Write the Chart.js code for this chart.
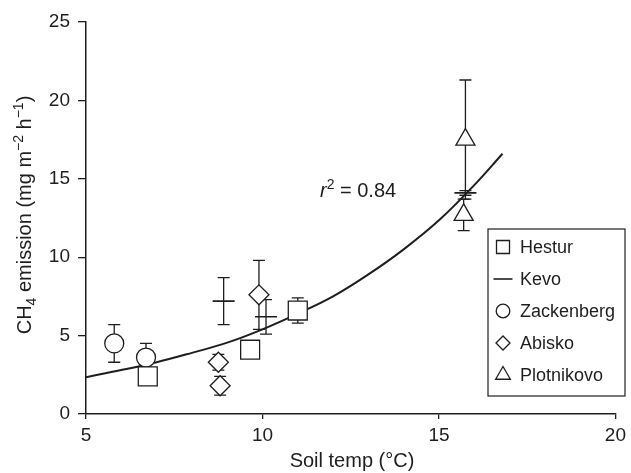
<!DOCTYPE html>
<html>
<head>
<meta charset="utf-8">
<script src="https://cdn.jsdelivr.net/npm/chart.js@4.4.1/dist/chart.umd.min.js"></script>
<style>
html,body{margin:0;padding:0;background:#fff}
#wrap{width:631px;height:473px}
</style>
</head>
<body>
<div id="wrap"><canvas id="c"></canvas></div>
<script>
'use strict';
/* CH4 emission vs soil temperature, five sites + exponential fit */
const INK = '#1e1e1e';
const FAM = '"Liberation Sans", Arial, Helvetica, sans-serif';

// site means: soil temp (°C), CH4 emission (mg m-2 h-1), ± error
const hesturX = [6.75, 9.65, 11.0];
const hesturY = [2.4, 4.1, 6.6];
const hesturE = [0, 0, 0.8];

const kevoX = [8.9, 10.1, 15.75];
const kevoY = [7.2, 6.2, 14.1];
const kevoE = [1.5, 1.1, 0.15];

const zackX = [5.8, 6.7];
const zackY = [4.5, 3.6];
const zackE = [1.2, 0.9];

const abiskoX = [8.75, 8.8, 9.9];
const abiskoY = [3.3, 1.8, 7.6];
const abiskoE = [0.5, 0.6, 2.2];

const plotX = [15.75, 15.7];
const plotY = [17.5, 12.7];
const plotE = [3.8, 1.0];

// fitted curve, read along its length
const fitX = [5, 6, 7, 8, 9, 10, 11, 12, 13, 14, 15, 16, 16.8];
const fitY = [2.35, 2.8, 3.3, 3.9, 4.55, 5.4, 6.4, 7.5, 8.9, 10.5, 12.35, 14.6, 16.6];

const xTicks = [5, 10, 15, 20];
const yTicks = [0, 5, 10, 15, 20, 25];
const fitLabel = '0.84';

const pts = (xs, ys) => xs.map((x, i) => ({x, y: ys[i]}));

function site(label, xs, ys, es, style, r, key){
  return {
    label, data: pts(xs, ys), errors: es, key,
    pointStyle: style, pointRadius: r, pointHoverRadius: r,
    pointBackgroundColor: '#fff', pointBorderColor: INK,
    pointBorderWidth: style === 'line' ? 1.6 : 1.3,
    showLine: false, order: 0
  };
}

const datasets = [
  site('Hestur', hesturX, hesturY, hesturE, 'rect', 13.4, 9.2),
  site('Kevo', kevoX, kevoY, kevoE, 'line', 11, 9.5),
  site('Zackenberg', zackX, zackY, zackE, 'circle', 9.5, 6.8),
  site('Abisko', abiskoX, abiskoY, abiskoE, 'rectRot', 10, 7),
  site('Plotnikovo', plotX, plotY, plotE, 'triangle', 11, 8.5),
  {label: 'fit', data: pts(fitX, fitY), showLine: true, pointRadius: 0,
   borderColor: INK, borderWidth: 2, tension: 0.4, order: 10, noKey: true}
];

// vertical error bars with caps, under the markers
const errorBars = {
  id: 'errorBars',
  beforeDatasetsDraw(chart){
    const {ctx, scales: {x, y}} = chart;
    ctx.save();
    ctx.strokeStyle = INK; ctx.lineWidth = 1.3;
    chart.data.datasets.forEach(ds => {
      if (!ds.errors) return;
      ds.data.forEach((p, i) => {
        const e = ds.errors[i]; if (!e) return;
        const px = x.getPixelForValue(p.x);
        const y0 = y.getPixelForValue(p.y - e), y1 = y.getPixelForValue(p.y + e);
        ctx.beginPath();
        ctx.moveTo(px, y0); ctx.lineTo(px, y1);
        ctx.moveTo(px - 6, y0); ctx.lineTo(px + 6, y0);
        ctx.moveTo(px - 6, y1); ctx.lineTo(px + 6, y1);
        ctx.stroke();
      });
    });
    ctx.restore();
  }
};

// boxed key in the lower right
const keyBox = {
  id: 'keyBox',
  afterDraw(chart){
    const ctx = chart.ctx;
    const bx = 488, by = 229, bw = 137, bh = 167;
    ctx.save();
    ctx.fillStyle = '#fff'; ctx.fillRect(bx, by, bw, bh);
    ctx.strokeStyle = INK; ctx.lineWidth = 1.2; ctx.strokeRect(bx, by, bw, bh);
    ctx.font = '18px ' + FAM; ctx.textBaseline = 'middle'; ctx.textAlign = 'left';
    chart.data.datasets.filter(d => !d.noKey).forEach((ds, i) => {
      const cy = by + 18 + i * 32;
      ctx.fillStyle = '#fff'; ctx.strokeStyle = INK; ctx.lineWidth = ds.pointBorderWidth;
      Chart.helpers.drawPoint(ctx, {pointStyle: ds.pointStyle, radius: ds.key, rotation: 0, borderWidth: ds.pointBorderWidth}, bx + 15, cy);
      ctx.fillStyle = INK;
      ctx.fillText(ds.label, bx + 32, cy + 1);
    });
    ctx.restore();
  }
};

// axis titles and the r² note, with sub/superscripts
function runs(ctx, parts, x, y){
  parts.forEach(([t, size, dy, style]) => {
    ctx.font = (style || '') + ' ' + size + 'px ' + FAM;
    ctx.fillText(t, x, y + dy);
    x += ctx.measureText(t).width;
  });
  return x;
}
function runsWidth(ctx, parts){
  let w = 0;
  parts.forEach(([t, size, dy, style]) => { ctx.font = (style || '') + ' ' + size + 'px ' + FAM; w += ctx.measureText(t).width; });
  return w;
}
const captions = {
  id: 'captions',
  afterDraw(chart){
    const ctx = chart.ctx;
    ctx.save();
    ctx.fillStyle = INK; ctx.textBaseline = 'alphabetic'; ctx.textAlign = 'left';

    const xt = [['Soil temp (°C)', 20, 0]];
    runs(ctx, xt, 352 - runsWidth(ctx, xt) / 2, 467);

    const yt = [['CH', 20, 0], ['4', 14, 5], [' emission (mg m', 20, 0], ['\u22122', 14, -8], [' h', 20, 0], ['\u22121', 14, -8], [')', 20, 0]];
    ctx.translate(31, 215); ctx.rotate(-Math.PI / 2);
    runs(ctx, yt, -runsWidth(ctx, yt) / 2, 0);
    ctx.setTransform(1, 0, 0, 1, 0, 0);

    runs(ctx, [['r', 20, 0, 'italic'], ['2', 14, -8], [' = ' + fitLabel, 20, 0]], 320, 197);
    ctx.restore();
  }
};

const gridStyle = len => ({drawOnChartArea: false, drawTicks: true, tickLength: len, color: INK, lineWidth: 1.3});
const borderStyle = {display: true, color: INK, width: 1.5};

new Chart(document.getElementById('c'), {
  type: 'scatter',
  data: {datasets},
  options: {
    responsive: true, maintainAspectRatio: false, animation: false,
    layout: {padding: {top: 22, right: 13, left: 0, bottom: 0}},
    plugins: {legend: {display: false}, tooltip: {enabled: false}},
    scales: {
      x: {type: 'linear', min: 5, max: 20, grid: gridStyle(5), border: borderStyle,
        afterBuildTicks: s => { s.ticks = xTicks.map(v => ({value: v})); },
        ticks: {color: INK, font: {family: FAM, size: 19}, padding: 5},
        afterFit: s => { s.height = 59; }},
      y: {type: 'linear', min: 0, max: 25, grid: gridStyle(8), border: borderStyle,
        afterBuildTicks: s => { s.ticks = yTicks.map(v => ({value: v})); },
        ticks: {color: INK, font: {family: FAM, size: 19}, padding: 8},
        afterFit: s => { s.width = 86; }}
    }
  },
  plugins: [errorBars, keyBox, captions]
});
</script>
</body>
</html>
